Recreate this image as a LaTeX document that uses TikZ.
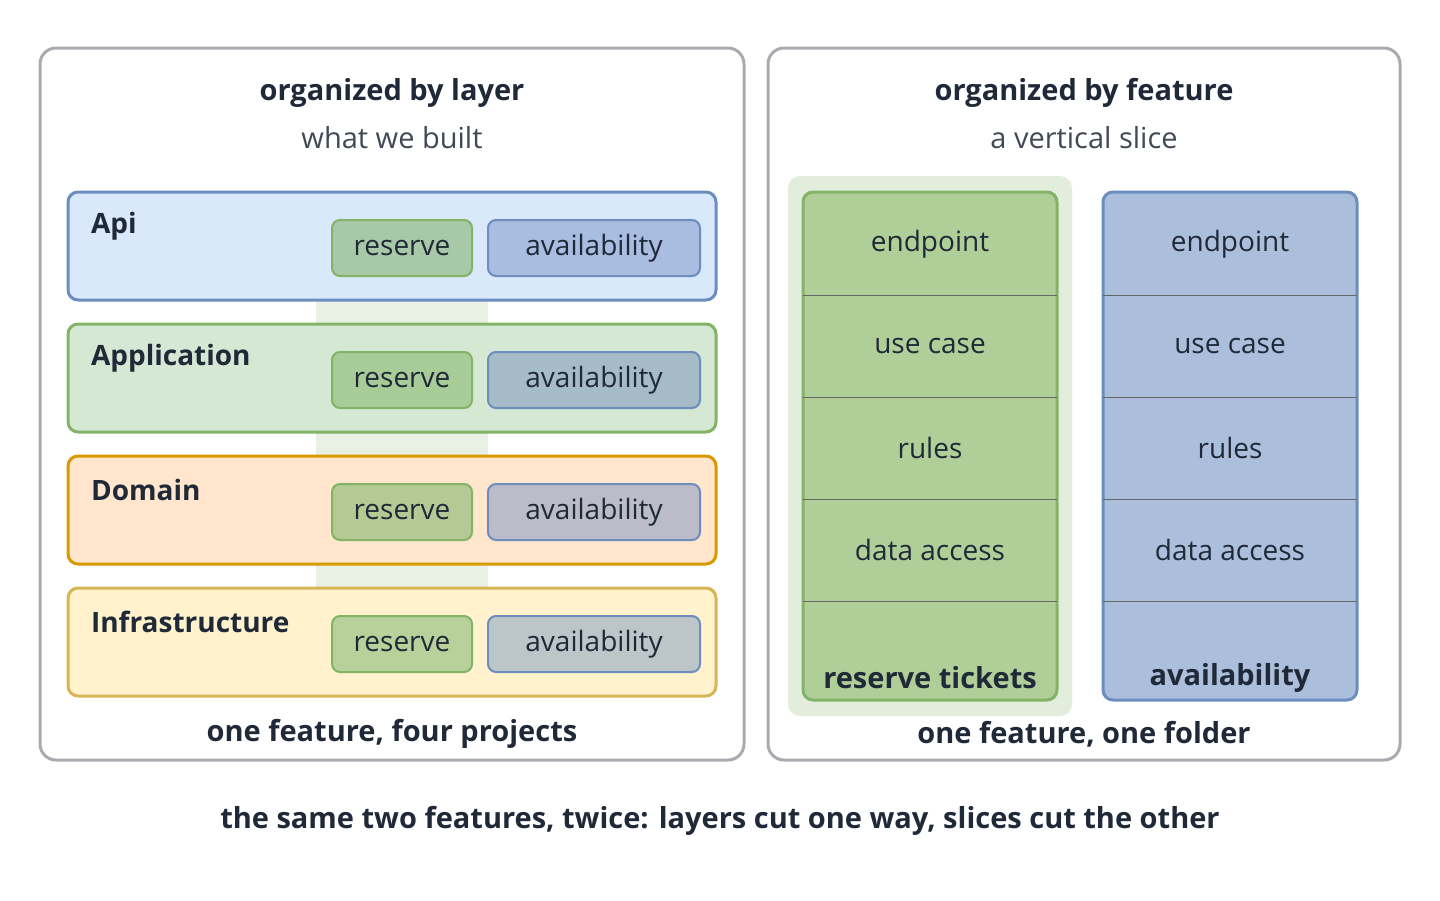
\documentclass[tikz,border=0pt]{standalone}
\usepackage{fontspec}
\setmainfont{Open Sans}
\usetikzlibrary{positioning}
\definecolor{ink}{HTML}{1F2937}
\definecolor{frame}{HTML}{A8ABB0}
\definecolor{bluel}{HTML}{6C8EBF}
\definecolor{greenl}{HTML}{82B366}
\definecolor{orangel}{HTML}{D79B00}
\definecolor{yellowl}{HTML}{D6B656}
\definecolor{bluef}{HTML}{DAE8FC}
\definecolor{greenf}{HTML}{D5E8D4}
\definecolor{orangef}{HTML}{FFE6CC}
\definecolor{yellowf}{HTML}{FFF2CC}
\definecolor{stripf}{HTML}{E9F1E5}
\definecolor{slicef}{HTML}{E2EEDB}
\definecolor{gcol}{HTML}{B0CF98}
\definecolor{bcol}{HTML}{ABBFDD}
\definecolor{g1}{HTML}{A8C9A8}
\definecolor{g2}{HTML}{A8CC98}
\definecolor{g3}{HTML}{B5C995}
\definecolor{g4}{HTML}{B8D19A}
\definecolor{b1}{HTML}{A8BDE0}
\definecolor{b2}{HTML}{A5BCC8}
\definecolor{b3}{HTML}{BBBCC8}
\definecolor{b4}{HTML}{BCC5C8}
\begin{document}
\begin{tikzpicture}[x=0.5pt,y=-0.5pt,
		panel/.style={draw=frame, line width=1.5pt, rounded corners=8pt, fill=white},
		band/.style={line width=1.5pt, rounded corners=5pt},
		chip/.style={rectangle, line width=1pt, rounded corners=4pt, minimum height=28pt, inner sep=0pt, text=ink, font=\fontsize{14}{16}\selectfont},
		cell/.style={rectangle, minimum width=127pt, minimum height=51pt, inner sep=0pt, text=ink, font=\fontsize{14}{16}\selectfont},
		title/.style={text=ink, font=\bfseries\fontsize{14.5}{17}\selectfont},
		sub/.style={text=ink!85, font=\fontsize{14.5}{17}\selectfont},
		tag/.style={anchor=west, text=ink, font=\bfseries\fontsize{14}{16}\selectfont},
		]
		\useasboundingbox (0,0) rectangle (1440,900);
		%Panels
		\draw[panel] (40,48) rectangle (744,760);
		\draw[panel] (768,48) rectangle (1400,760);
		\node[title] (ltitle) at (392,93) {organized by layer};
		\node[sub]   (lsub)   at (392,138) {what we built};
		\node[title] (rtitle) at (1084,93) {organized by feature};
		\node[sub]   (rsub)   at (1084,138) {a vertical slice};

		%Layers
		\fill[stripf] (316,300) rectangle (488,588);
		\draw[band, draw=bluel, fill=bluef] (68,192) rectangle (716,300);
		\draw[band, draw=greenl, fill=greenf] (68,324) rectangle (716,432);
		\draw[band, draw=orangel, fill=orangef] (68,456) rectangle (716,564);
		\draw[band, draw=yellowl, fill=yellowf] (68,588) rectangle (716,696);
		\node[tag] (api)   at (84,226) {Api};
		\node[tag] (app)   at (84,358) {Application};
		\node[tag] (dom)   at (84,490) {Domain};
		\node[tag] (infra) at (84,622) {Infrastructure};
		\foreach \y/\i in {248/1, 380/2, 512/3, 644/4}{
			\node[chip, draw=greenl, fill=g\i, minimum width=70pt] (res\i) at (402,\y) {reserve};
			\node[chip, draw=bluel, fill=b\i, minimum width=106pt] (avl\i) at (594,\y) {availability};
		}
		\node[title] (lfoot) at (392,734) {one feature, four projects};

		%Slices
		\fill[rounded corners=6pt, slicef] (788,176) rectangle (1072,716);
		\draw[band, draw=greenl, fill=gcol] (803,192) rectangle (1057,700);
		\draw[band, draw=bluel, fill=bcol] (1103,192) rectangle (1357,700);
		\foreach \x/\s in {930/r, 1230/a}{
			\node[cell] (\s1) at (\x,244) {endpoint};
			\node[cell] (\s2) at (\x,346) {use case};
			\node[cell] (\s3) at (\x,448) {rules};
			\node[cell] (\s4) at (\x,550) {data access};
			\foreach \i in {1,...,4}
				\draw[gray!80!black, line width=0.4pt] (\s\i.south west) -- (\s\i.south east);
		}
		\node[title] (rname) at (930,678) {reserve tickets};
		\node[title] (aname) at (1230,678) {availability};
		\node[title] (rfoot) at (1084,734) {one feature, one folder};

		\node[title] (caption) at (720,821) {the same two features, twice: layers cut one way, slices cut the other};
\end{tikzpicture}
\end{document}
